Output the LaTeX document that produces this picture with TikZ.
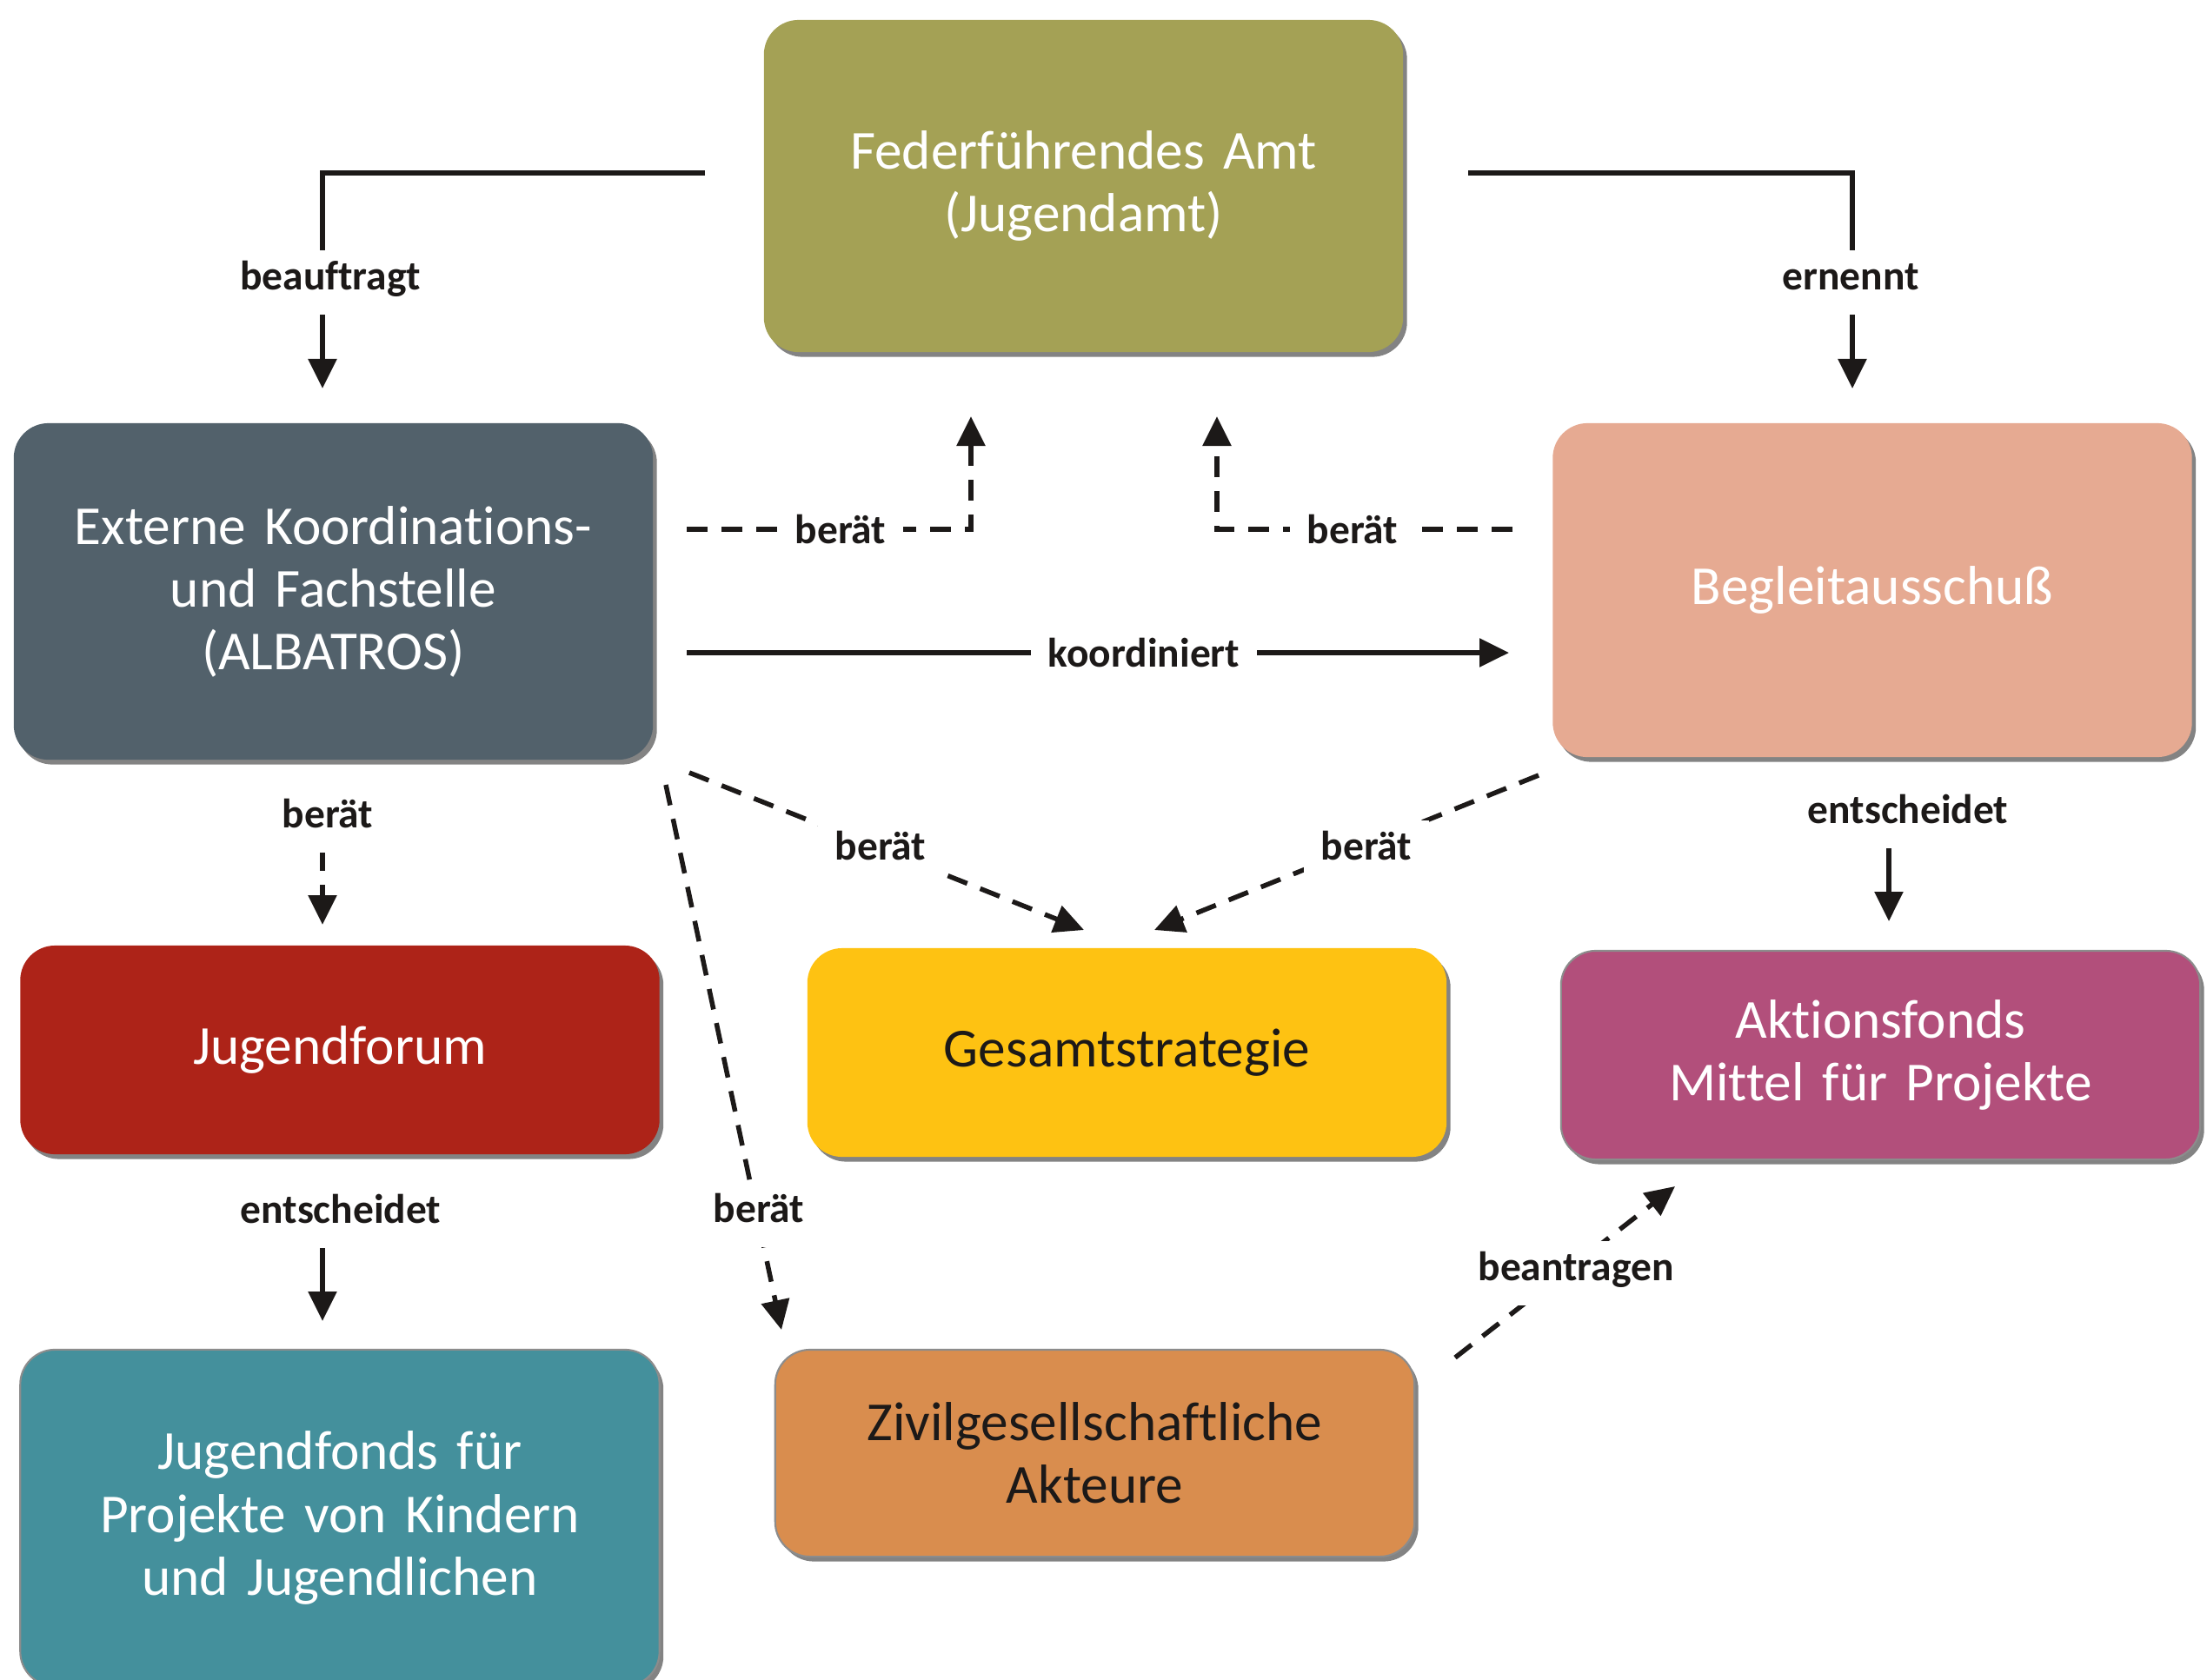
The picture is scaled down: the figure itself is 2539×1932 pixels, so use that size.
\documentclass[tikz,border=0pt]{standalone}
\usepackage{fontspec}
\setmainfont{Carlito}[WordSpace=0.8, Ligatures=CommonOff]
\usetikzlibrary{arrows.meta,shadows}
\definecolor{cAmt}{HTML}{A4A155}
\definecolor{cExt}{HTML}{52616B}
\definecolor{cBeg}{HTML}{E6AA92}
\definecolor{cJf}{HTML}{AD2318}
\definecolor{cGes}{HTML}{FEC212}
\definecolor{cAkt}{HTML}{B24F7B}
\definecolor{cJfo}{HTML}{44909C}
\definecolor{cZiv}{HTML}{D98D4E}
\definecolor{ink}{HTML}{1C1918}
\begin{document}
\begin{tikzpicture}[x=0.01cm,y=-0.01cm,
  box/.style={rounded corners=0.4cm, minimum width=7.35cm, text width=7cm, align=center,
    font=\fontsize{18}{20.5}\selectfont, text=white,
    drop shadow={shadow xshift=0.045cm, shadow yshift=-0.055cm, fill=black!75, opacity=0.65}},
  outl/.style={draw=black!45, line width=0.6pt},
  lab/.style={font=\fontsize{13.5}{16}\selectfont\bfseries, text=ink, fill=white,
    inner xsep=0.2cm, inner ysep=0.2cm, text height=0.72em, text depth=0.22em, yshift=-0.08cm},
  conn/.style={draw=ink, line width=0.055cm, -{Triangle[length=0.34cm,width=0.32cm]}},
  dsh/.style={dash pattern=on 0.24cm off 0.16cm}]
\useasboundingbox (0,0) rectangle (2539,1932);

% boxes
\node[box, fill=cAmt, minimum height=3.82cm] (amt) at (1246.5,214) {Federführendes Amt\\(Jugendamt)};
\node[box, fill=cExt, minimum height=3.87cm] (ext) at (383.5,680.5) {Externe Koordinations-\\und Fachstelle\\(ALBATROS)};
\node[box, fill=cBeg, minimum height=3.84cm] (beg) at (2154,679) {Begleitausschuß};
\node[box, fill=cJf, minimum height=2.40cm] (jf) at (391,1208) {Jugendforum};
\node[box, fill=cGes, text=ink, minimum height=2.40cm] (ges) at (1296.5,1211) {Gesamtstrategie};
\node[box, outl, fill=cAkt, minimum height=2.40cm] (akt) at (2163.5,1214) {Aktionsfonds\\Mittel für Projekte};
\node[box, outl, fill=cJfo, minimum height=3.87cm] (jfo) at (391,1746.5) {Jugendfonds für\\Projekte von Kindern\\und Jugendlichen};
\node[box, outl, fill=cZiv, text=ink, minimum height=2.38cm] (ziv) at (1259.5,1672) {Zivilgesellschaftliche\\Akteure};

% connector end points
\coordinate (bfS) at (811,199);   \coordinate (bfE) at (371,447);
\coordinate (erS) at (1689,199);  \coordinate (erE) at (2131,447);
\coordinate (eaS) at (790,609);   \coordinate (eaE) at (1117,479);
\coordinate (baS) at (1740,609);  \coordinate (baE) at (1400,479);
\coordinate (koS) at (790,751);   \coordinate (koE) at (1736,751);
\coordinate (ejS) at (371,978);   \coordinate (ejE) at (371,1064);
\coordinate (egS) at (793,889);   \coordinate (egE) at (1247,1070);
\coordinate (bgS) at (1770,892);  \coordinate (bgE) at (1328,1070);
\coordinate (bkS) at (2173,973);  \coordinate (bkE) at (2173,1060);
\coordinate (jjS) at (371,1434);  \coordinate (jjE) at (371,1520);
\coordinate (ezS) at (766,903);   \coordinate (ezE) at (899,1530);
\coordinate (zaS) at (1674,1562); \coordinate (zaE) at (1927,1365);

% connectors
\draw[conn] (bfS) -| (bfE);
\draw[conn] (erS) -| (erE);
\draw[conn, dsh] (eaS) -| (eaE);
\draw[conn, dsh] (baS) -| (baE);
\draw[conn] (koS) -- (koE);
\draw[conn, dsh] (ejS) -- (ejE);
\draw[conn, dsh] (egS) -- (egE);
\draw[conn, dsh] (bgS) -- (bgE);
\draw[conn] (bkS) -- (bkE);
\draw[conn] (jjS) -- (jjE);
\draw[conn, dsh] (ezS) -- (ezE);
\draw[conn, dsh] (zaS) -- (zaE);

% labels
\node[lab] (l1) at (380,317) {beauftragt};
\node[lab] (l2) at (2129,317) {ernennt};
\node[lab] (l3) at (967,609) {berät};
\node[lab] (l4) at (1556,609) {berät};
\node[lab] (l5) at (1316,751) {koordiniert};
\node[lab] (l6) at (377,936) {berät};
\node[lab] (l7) at (1013,973) {berät};
\node[lab] (l8) at (1572,973) {berät};
\node[lab] (l9) at (2195,931) {entscheidet};
\node[lab] (l10) at (392,1391) {entscheidet};
\node[lab] (l11) at (873,1390) {berät};
\node[lab] (l12) at (1813,1457) {beantragen};
\end{tikzpicture}
\end{document}
